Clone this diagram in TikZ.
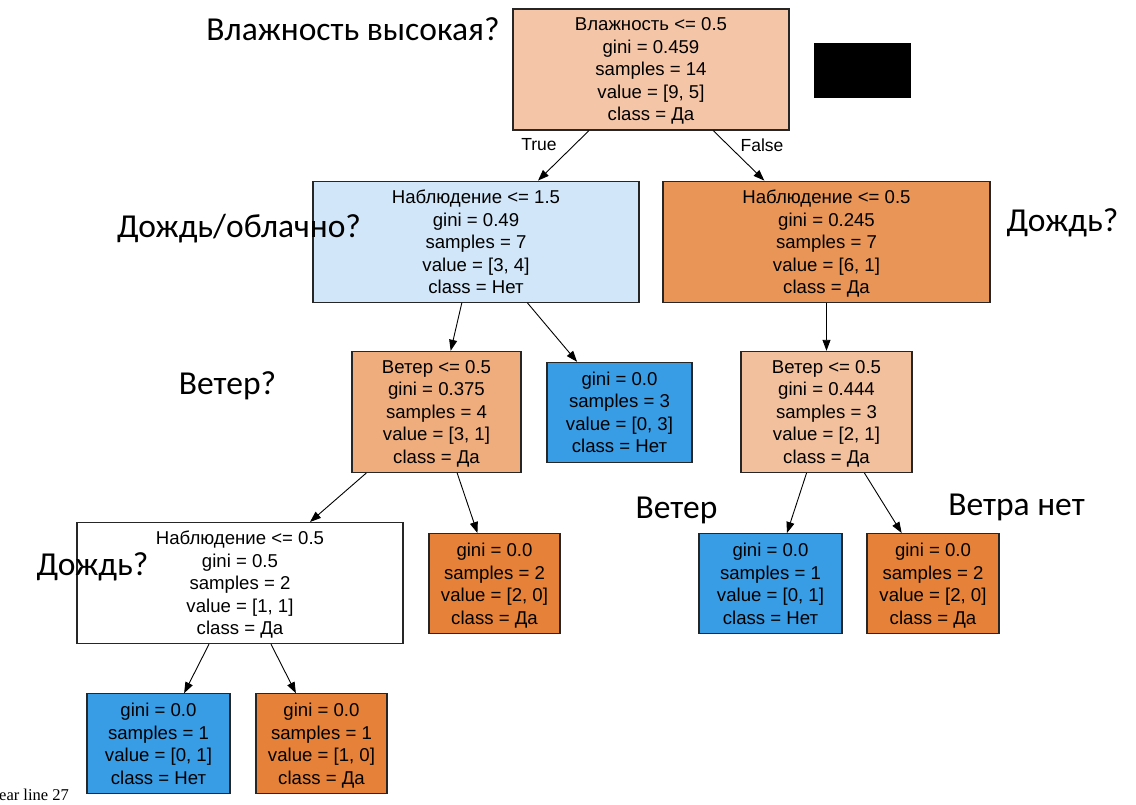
\documentclass[tikz,border=0pt]{standalone}
\usepackage{fontspec}
\setmainfont{Liberation Sans}
\newfontfamily\notefont{Carlito}
\newfontfamily\termfont{Liberation Serif}
\usetikzlibrary{arrows.meta, positioning}
\definecolor{fill_root}{HTML}{F4C6A7}
\definecolor{fill_lblue}{HTML}{D1E6F8}
\definecolor{fill_dorange}{HTML}{E99558}
\definecolor{fill_morange}{HTML}{EFAD7E}
\definecolor{fill_lorange}{HTML}{F2C09C}
\definecolor{fill_orange}{HTML}{E58139}
\definecolor{fill_blue}{HTML}{399DE5}
\tikzset{
    block_split/.style={rectangle, draw=black!85, line width=1.2pt, align=center, inner sep=0pt, text depth=0pt, minimum height=121pt, font=\fontsize{18.6}{22.5}\selectfont},
    block_leaf/.style={block_split, minimum height=100pt},
    note/.style={inner sep=0pt, font=\notefont\fontsize{33.5}{36}\selectfont},
    edge_label/.style={inner sep=0pt, font=\fontsize{17.5}{20}\selectfont},
    arrow/.style={-{Triangle[length=11pt, width=8pt]}, line width=0.9pt}
}
\begin{document}
\begin{tikzpicture}[x=1pt, y=1pt, node distance=50pt]
\useasboundingbox (0,0) rectangle (1136,-804);
            \node (root) [block_split, fill=fill_root, minimum width=276pt] at (651,-69.5) {Влажность <= 0.5\\gini = 0.459\\samples = 14\\value = [9, 5]\\class = Да};
            \node (outlook1) [block_split, fill=fill_lblue, minimum width=326pt, below=50pt of root, xshift=-175pt] {Наблюдение <= 1.5\\gini = 0.49\\samples = 7\\value = [3, 4]\\class = Нет};
            \node (outlook2) [block_split, fill=fill_dorange, minimum width=327pt, below=50pt of root, xshift=175.5pt] {Наблюдение <= 0.5\\gini = 0.245\\samples = 7\\value = [6, 1]\\class = Да};
            \node (wind1) [block_split, fill=fill_morange, minimum width=169pt, below=48pt of outlook1, xshift=-39.5pt] {Ветер <= 0.5\\gini = 0.375\\samples = 4\\value = [3, 1]\\class = Да};
            \node (leaf1) [block_leaf, fill=fill_blue, minimum width=145pt, below=59pt of outlook1, xshift=143.5pt] {gini = 0.0\\samples = 3\\value = [0, 3]\\class = Нет};
            \node (wind2) [block_split, fill=fill_lorange, minimum width=171pt, below=48pt of outlook2] {Ветер <= 0.5\\gini = 0.444\\samples = 3\\value = [2, 1]\\class = Да};
            \node (outlook3) [block_split, fill=white, minimum width=326pt, below=49pt of wind1, xshift=-196.5pt] {Наблюдение <= 0.5\\gini = 0.5\\samples = 2\\value = [1, 1]\\class = Да};
            \node (leaf2) [block_leaf, fill=fill_orange, minimum width=131pt, below=60pt of wind1, xshift=58pt] {gini = 0.0\\samples = 2\\value = [2, 0]\\class = Да};
            \node (leaf3) [block_leaf, fill=fill_blue, minimum width=143pt, below=60pt of wind2, xshift=-56pt] {gini = 0.0\\samples = 1\\value = [0, 1]\\class = Нет};
            \node (leaf4) [block_leaf, fill=fill_orange, minimum width=132pt, below=60pt of wind2, xshift=106.5pt] {gini = 0.0\\samples = 2\\value = [2, 0]\\class = Да};
            \node (leaf5) [block_leaf, fill=fill_blue, minimum width=143pt, below=49pt of outlook3, xshift=-81.5pt] {gini = 0.0\\samples = 1\\value = [0, 1]\\class = Нет};
            \node (leaf6) [block_leaf, fill=fill_orange, minimum width=131pt, below=49pt of outlook3, xshift=81.5pt] {gini = 0.0\\samples = 1\\value = [1, 0]\\class = Да};

            \draw [arrow] (root) -- (outlook1);
            \draw [arrow] (root) -- (outlook2);
            \draw [arrow] (outlook1) -- (wind1);
            \draw [arrow] (outlook1) -- (leaf1);
            \draw [arrow] (outlook2) -- (wind2);
            \draw [arrow] (wind1) -- (outlook3);
            \draw [arrow] (wind1) -- (leaf2);
            \draw [arrow] (wind2) -- (leaf3);
            \draw [arrow] (wind2) -- (leaf4);
            \draw [arrow] (outlook3) -- (leaf5);
            \draw [arrow] (outlook3) -- (leaf6);

            \node (true_lbl) [edge_label] at (539,-145) {True};
            \node (false_lbl) [edge_label] at (762,-145) {False};
            \node (redact) [fill=black, minimum width=97pt, minimum height=55pt, inner sep=0pt] at (862.5,-70.5) {};

            % annotations
            \node (q_humid) [note] at (353,-29) {Влажность высокая?};
            \node (q_rain_cloud) [note] at (239,-229) {Дождь/облачно?};
            \node (q_rain_r) [note] at (1062.5,-223) {Дождь?};
            \node (q_wind) [note] at (227.5,-386) {Ветер?};
            \node (a_wind) [note] at (676.5,-510) {Ветер};
            \node (a_nowind) [note] at (1016.5,-507) {Ветра нет};
            \node (q_rain_l) [note] at (92.5,-567) {Дождь?};
            \node (tail) [anchor=base west, inner sep=0pt, font=\termfont\fontsize{16.5}{18}\selectfont] at (-1,-800) {ear line 27};
\end{tikzpicture}
\end{document}
